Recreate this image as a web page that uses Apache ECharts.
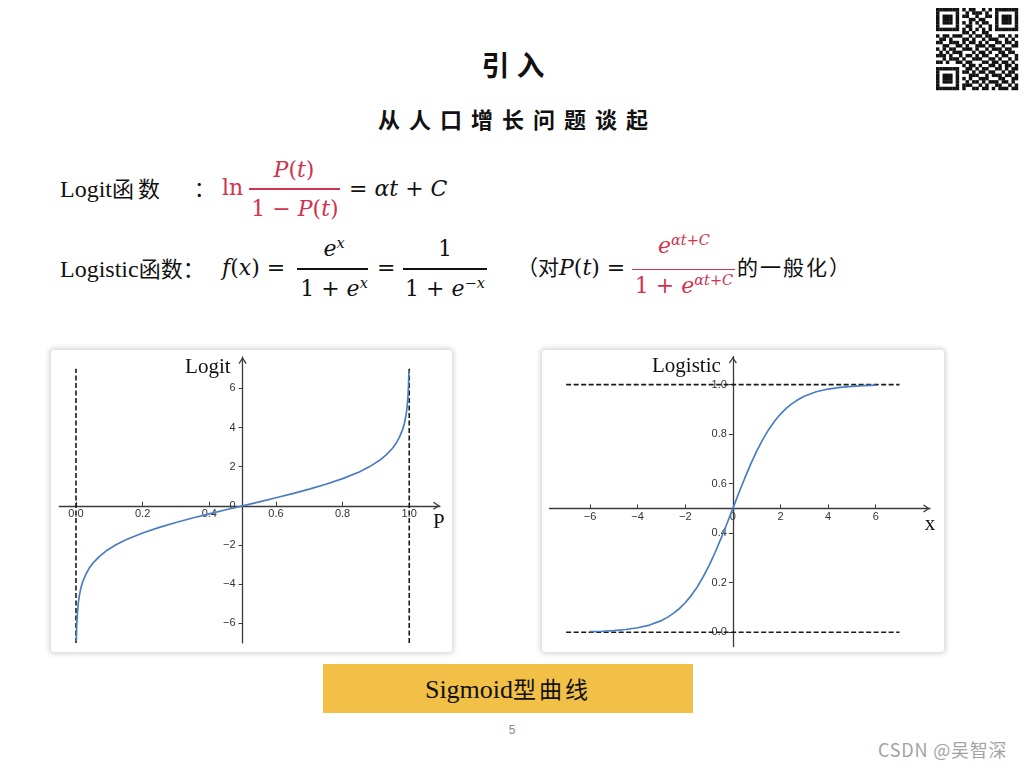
<!DOCTYPE html>
<html><head><meta charset="utf-8">
<script src="https://cdn.jsdelivr.net/npm/echarts@6/dist/echarts.min.js"></script>
<style>
html,body{margin:0;padding:0;width:1024px;height:768px;background:#fff;overflow:hidden;}
#slide{position:relative;width:1024px;height:768px;}
.abs{position:absolute;white-space:nowrap;line-height:1;}
.ser{font-family:"Liberation Serif","Noto Sans CJK SC",serif;color:#111;}
.cjk{font-family:"Noto Sans CJK SC",sans-serif;}
.m{font-family:"DejaVu Serif",serif;font-size:22px;color:#111;}
.red{color:#cf3350;}
.c{transform:translateX(-50%);}
.bar{position:absolute;height:1.5px;background:#111;}
.bar.red{background:#cf3350;}
sup{font-size:0.66em;vertical-align:0;position:relative;top:-0.55em;line-height:0;}
.panel{position:absolute;background:#fff;border-radius:3px;box-shadow:0 0 5px 2px rgba(0,0,0,0.16);}
#chart{position:absolute;left:0;top:0;width:1024px;height:768px;}
</style></head>
<body><div id="slide">
<div class="panel" style="left:51px;top:350px;width:401px;height:302px;"></div>
<div class="panel" style="left:542px;top:350px;width:402px;height:302px;"></div>

<div class="abs cjk" style="left:513px;top:50px;font-size:28px;font-weight:700;color:#111;transform:translateX(-50%);letter-spacing:7px;padding-left:7px;">引入</div>
<div class="abs cjk" style="left:513px;top:107px;font-size:22px;font-weight:700;color:#111;transform:translateX(-50%);letter-spacing:9px;padding-left:9px;">从人口增长问题谈起</div>

<!-- line 1 -->
<div class="abs ser" style="left:60px;top:176px;font-size:24px;">Logit<span class="cjk" style="font-size:22px;letter-spacing:4px;">函数</span></div>
<div class="abs cjk" style="left:194px;top:177px;font-size:21px;color:#111;">：</div>
<div class="abs m red" style="left:222px;top:177px;">ln</div>
<div class="abs m red c" style="left:294px;top:159px;"><i>P</i>(<i>t</i>)</div>
<div class="bar red" style="left:249px;top:188px;width:91px;"></div>
<div class="abs m red c" style="left:295px;top:198px;">1 − <i>P</i>(<i>t</i>)</div>
<div class="abs m" style="left:349px;top:178px;">= <i>αt</i> + <i>C</i></div>

<!-- line 2 -->
<div class="abs ser" style="left:60px;top:256px;font-size:24px;">Logistic<span class="cjk" style="font-size:22px;">函数：</span></div>
<div class="abs m" style="left:222px;top:257px;"><i>f</i>(<i>x</i>) =</div>
<div class="abs m c" style="left:334px;top:238px;"><i>e<sup>x</sup></i></div>
<div class="bar" style="left:297px;top:268px;width:71px;"></div>
<div class="abs m c" style="left:334px;top:278px;">1 + <i>e<sup>x</sup></i></div>
<div class="abs m" style="left:377px;top:257px;">=</div>
<div class="abs m c" style="left:445px;top:238px;">1</div>
<div class="bar" style="left:403px;top:268px;width:84px;"></div>
<div class="abs m c" style="left:445px;top:278px;">1 + <i>e<sup>−x</sup></i></div>
<div class="abs m" style="left:517px;top:256px;"><span class="cjk" style="font-size:21px;">（对</span><i>P</i>(<i>t</i>) =</div>
<div class="abs m red c" style="left:684px;top:235px;"><i>e<sup>αt+C</sup></i></div>
<div class="bar red" style="left:632px;top:268.5px;width:103px;"></div>
<div class="abs m red c" style="left:684px;top:275px;">1 + <i>e<sup>αt+C</sup></i></div>
<div class="abs cjk" style="left:737px;top:256px;font-size:21px;color:#111;letter-spacing:2px;">的一般化）</div>

<div class="abs" style="left:323px;top:664px;width:370px;height:49px;background:#f3c047;"></div>
<div class="abs ser" style="left:508px;top:677px;font-size:26px;transform:translateX(-50%);">Sigmoid<span class="cjk" style="font-size:23px;letter-spacing:3px;">型曲线</span></div>
<div class="abs" style="left:512px;top:724px;font-size:12px;color:#888;font-family:'Liberation Sans',sans-serif;transform:translateX(-50%);">5</div>
<div class="abs cjk" style="left:878px;top:740px;font-size:18px;color:#a3a3a3;letter-spacing:0.8px;">CSDN @吴智深</div>

<div id="chart"></div>
</div>
<script>
// ---------- Logit chart data ----------
const logitP = [0.001,0.002,0.004,0.007,0.01,0.015,0.02,0.03,0.04,0.05,0.07,0.09,0.12,0.15,0.2,0.25,0.3,0.35,0.4,0.45,0.5,0.55,0.6,0.65,0.7,0.75,0.8,0.85,0.88,0.91,0.93,0.95,0.96,0.97,0.98,0.985,0.99,0.993,0.996,0.998,0.999];
const logitVal = [-6.91,-6.21,-5.52,-4.95,-4.60,-4.18,-3.89,-3.48,-3.18,-2.94,-2.59,-2.31,-1.99,-1.73,-1.39,-1.10,-0.85,-0.62,-0.41,-0.20,0,0.20,0.41,0.62,0.85,1.10,1.39,1.73,1.99,2.31,2.59,2.94,3.18,3.48,3.89,4.18,4.60,4.95,5.52,6.21,6.91];
const logitXTicks = [0,0.2,0.4,0.6,0.8,1.0];
const logitYTicks = [-6,-4,-2,0,2,4,6];
const logitAsymptoteX = [0,1];
const logitAsymptoteSpan = [-7,7];

// ---------- Logistic chart data ----------
const logisticX = [-6,-5.5,-5,-4.5,-4,-3.5,-3,-2.75,-2.5,-2.25,-2,-1.75,-1.5,-1.25,-1,-0.75,-0.5,-0.25,0,0.25,0.5,0.75,1,1.25,1.5,1.75,2,2.25,2.5,2.75,3,3.5,4,4.5,5,5.5,6];
const logisticVal = [0.0025,0.004,0.0067,0.011,0.018,0.029,0.047,0.060,0.076,0.095,0.119,0.148,0.182,0.223,0.269,0.321,0.378,0.438,0.5,0.562,0.622,0.679,0.731,0.777,0.818,0.852,0.881,0.905,0.924,0.940,0.953,0.971,0.982,0.989,0.993,0.996,0.9975];
const logisticXTicks = [-6,-4,-2,0,2,4,6];
const logisticYTicks = [0,0.2,0.4,0.6,0.8,1.0];
const logisticAsymptoteY = [0,1];
const logisticAsymptoteSpan = [-7,7];

// ---------- styling / layout ----------
const AX = '#3a3a3a';
const CURVE = '#4a7cc4';
const chevron = 'path://M0,60 L40,0 L80,60 L70,68 L40,22 L10,68 Z';
const fmtMinus = v => (v < 0 ? '\u2212' + Math.abs(v) : String(v));
const fmt1 = v => v.toFixed(1);

const G1 = {left: 59.3, top: 357, width: 380.6, height: 285.9};
const X1 = {min: -0.05, max: 1.092};
const Y1 = {min: -7.0, max: 7.6};
const G2 = {left: 549.5, top: 356.6, width: 380.5, height: 290};
const X2 = {min: -7.7, max: 8.28};
const Y2 = {min: -0.058, max: 1.113};

// axis crossings: left chart axes cross at (0.5, 0); right chart at (0, 0.5)
const x1Offset = -(0 - Y1.min) / (Y1.max - Y1.min) * G1.height;
const y1Offset = -(0.5 - X1.min) / (X1.max - X1.min) * G1.width;
const x2Offset = -(0.5 - Y2.min) / (Y2.max - Y2.min) * G2.height;
const y2Offset = -(0 - X2.min) / (X2.max - X2.min) * G2.width;

const labelStyle = {fontFamily: 'Liberation Sans', fontSize: 11, color: '#333'};
const nameStyle = {fontFamily: 'Liberation Serif', fontSize: 21, color: '#111'};
const axisLineStyle = {show: true, onZero: false, lineStyle: {color: AX, width: 1.3}, symbol: ['none', chevron], symbolSize: [8, 7], symbolOffset: [0, -3.5]};

function axis(extra) {
  return Object.assign({type: 'value', splitLine: {show: false}, axisLine: axisLineStyle}, extra);
}

const dashStyle = {color: '#1a1a1a', width: 1.6, type: [5, 2.5]};

const series = [];
logitAsymptoteX.forEach(x => series.push({
  type: 'line', xAxisIndex: 0, yAxisIndex: 0, showSymbol: false, silent: true,
  data: logitAsymptoteSpan.map(y => [x, y]), lineStyle: dashStyle, z: 3
}));
series.push({
  type: 'line', xAxisIndex: 0, yAxisIndex: 0, showSymbol: false, smooth: false,
  data: logitP.map((p, i) => [p, logitVal[i]]), lineStyle: {color: CURVE, width: 1.7}, z: 4
});
logisticAsymptoteY.forEach(y => series.push({
  type: 'line', xAxisIndex: 1, yAxisIndex: 1, showSymbol: false, silent: true,
  data: logisticAsymptoteSpan.map(x => [x, y]), lineStyle: dashStyle, z: 3
}));
series.push({
  type: 'line', xAxisIndex: 1, yAxisIndex: 1, showSymbol: false, smooth: false,
  data: logisticX.map((x, i) => [x, logisticVal[i]]), lineStyle: {color: CURVE, width: 1.7}, z: 4
});

const option = {
  animation: false,
  backgroundColor: 'transparent',
  grid: [
    Object.assign({containLabel: false, outerBoundsMode: 'none'}, G1),
    Object.assign({containLabel: false, outerBoundsMode: 'none'}, G2)
  ],
  xAxis: [
    axis({gridIndex: 0, min: X1.min, max: X1.max, position: 'bottom', offset: x1Offset,
      axisTick: {show: true, inside: true, length: 4, lineStyle: {color: AX}, customValues: logitXTicks},
      axisLabel: Object.assign({margin: 3, formatter: fmt1, customValues: logitXTicks}, labelStyle),
      name: 'P', nameLocation: 'end', nameGap: -1,
      nameTextStyle: Object.assign({align: 'center', verticalAlign: 'top', padding: [6, 0, 0, 0]}, nameStyle)}),
    axis({gridIndex: 1, min: X2.min, max: X2.max, position: 'bottom', offset: x2Offset,
      axisTick: {show: true, inside: true, length: 4, lineStyle: {color: AX}, customValues: logisticXTicks},
      axisLabel: Object.assign({margin: 3, formatter: fmtMinus, customValues: logisticXTicks}, labelStyle),
      name: 'x', nameLocation: 'end', nameGap: 0,
      nameTextStyle: Object.assign({align: 'center', verticalAlign: 'top', padding: [6, 0, 0, 0]}, nameStyle)})
  ],
  yAxis: [
    axis({gridIndex: 0, min: Y1.min, max: Y1.max, position: 'left', offset: y1Offset,
      axisTick: {show: true, inside: false, length: 4, lineStyle: {color: AX}, customValues: logitYTicks},
      axisLabel: Object.assign({margin: 7, formatter: fmtMinus, customValues: logitYTicks}, labelStyle),
      name: 'Logit', nameLocation: 'end', nameGap: -10,
      nameTextStyle: Object.assign({align: 'right', verticalAlign: 'middle', padding: [0, 12, 0, 0]}, nameStyle)}),
    axis({gridIndex: 1, min: Y2.min, max: Y2.max, position: 'left', offset: y2Offset,
      axisTick: {show: true, inside: false, length: 4, lineStyle: {color: AX}, customValues: logisticYTicks},
      axisLabel: Object.assign({margin: 6, formatter: fmt1, customValues: logisticYTicks}, labelStyle),
      name: 'Logistic', nameLocation: 'end', nameGap: -10,
      nameTextStyle: Object.assign({align: 'right', verticalAlign: 'middle', padding: [0, 12, 0, 0]}, nameStyle)})
  ],
  series: series,
  graphic: []
};

// QR-like decoration (hand-typed module pattern)
const qrRows = [
"1111111010110010101111111",
"1000001001011101001000001",
"1011101011001001101011101",
"1011101000110110001011101",
"1011101010101011001011101",
"1000001001100100101000001",
"1111111010101010101111111",
"0000000011010011000000000",
"1011011100101101100110101",
"0110100011010010111001010",
"1100111010110101001101101",
"0011001101001110110010011",
"1010110011101001011101100",
"0101011100010110100110110",
"1110100101101011001011001",
"0010111010011100110100101",
"1101001101100011011011010",
"0000000010110100110101101",
"1111111001101011001101011",
"1000001011010110110010110",
"1011101000111001011101101",
"1011101010100111000110011",
"1011101001011010111011010",
"1000001011100101001100101",
"1111111010011011010111011"
];
const qrCell = 3.28, qrX = 936, qrY = 8;
qrRows.forEach((row, r) => {
  for (let c = 0; c < row.length; c++) {
    if (row[c] === '1') option.graphic.push({type: 'rect', silent: true,
      shape: {x: qrX + c * qrCell, y: qrY + r * qrCell, width: qrCell + 0.2, height: qrCell + 0.2},
      style: {fill: '#111'}});
  }
});

const chart = echarts.init(document.getElementById('chart'), null, {renderer: 'canvas'});
chart.setOption(option);
</script>
</body></html>
